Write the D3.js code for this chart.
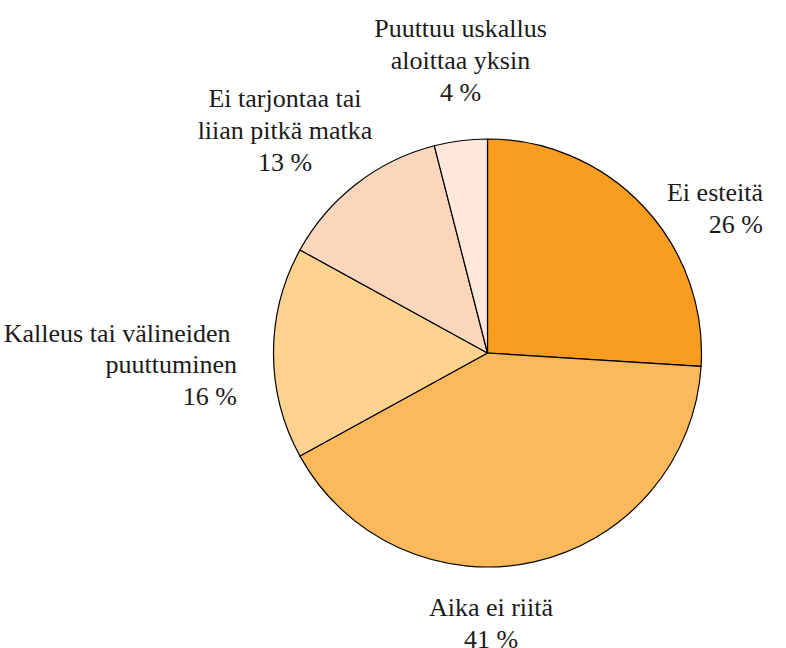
<!DOCTYPE html>
<html><head><meta charset="utf-8">
<script src="https://cdn.jsdelivr.net/npm/d3@7"></script>
<style>body{margin:0;background:#fff}svg{display:block}text{white-space:pre}</style>
</head><body>
<script>
const categories = ["Ei esteitä", "Aika ei riitä", "Kalleus tai välineiden puuttuminen", "Ei tarjontaa tai liian pitkä matka", "Puuttuu uskallus aloittaa yksin"];
const values = [26, 41, 16, 13, 4];
const colors = ["#F89D1F", "#FBB95B", "#FED28F", "#FAD7BC", "#FDE8DB"];
const labelLines = [["Ei esteitä", "26 %"], ["Aika ei riitä", "41 %"], ["Kalleus tai välineiden ", "puuttuminen", "16 %"], ["Ei tarjontaa tai", "liian pitkä matka", "13 %"], ["Puuttuu uskallus", "aloittaa yksin", "4 %"]];
// label layout: x, first baseline y, anchor
const labelLayout = [[763, 201, "end"], [491, 616, "middle"], [237, 341.5, "end"], [285, 107, "middle"], [460.5, 37, "middle"]];

const W = 786, H = 648, cx = 487.5, cy = 353, r = 214, lh = 31.8;
const svg = d3.select("body").append("svg").attr("width", W).attr("height", H);
const pie = d3.pie().sort(null).value(d => d)(values);
const arc = d3.arc().innerRadius(0).outerRadius(r);
const g = svg.append("g").attr("transform", `translate(${cx},${cy})`);
g.selectAll("path").data(pie).join("path")
  .attr("d", arc).attr("fill", (d, i) => colors[i])
  .attr("stroke", "#000").attr("stroke-width", 1.2).attr("stroke-linejoin", "round");

labelLines.forEach((lines, i) => {
  const [x, y, anchor] = labelLayout[i];
  const t = svg.append("text").attr("text-anchor", anchor)
    .attr("font-family", "Liberation Serif")
    .attr("font-size", 26).attr("fill", "#1a1a1a");
  lines.forEach((s, j) => t.append("tspan").attr("x", x).attr("y", y + j * lh).text(s));
});
</script>
</body></html>
